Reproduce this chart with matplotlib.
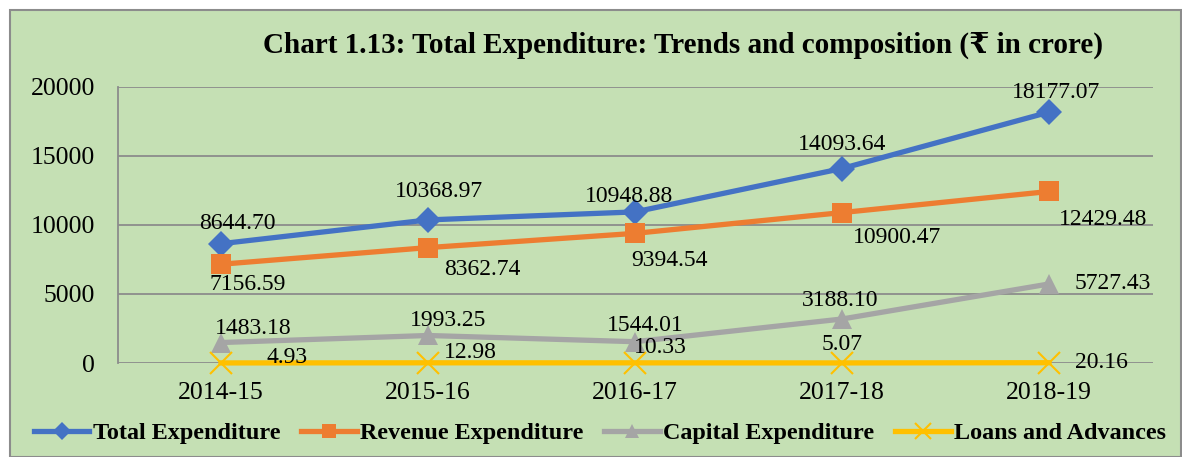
import matplotlib.pyplot as plt
from matplotlib.patches import Rectangle

# data (rupees in crore)
years = ['2014-15', '2015-16', '2016-17', '2017-18', '2018-19']
total_exp = [8644.70, 10368.97, 10948.88, 14093.64, 18177.07]
revenue_exp = [7156.59, 8362.74, 9394.54, 10900.47, 12429.48]
capital_exp = [1483.18, 1993.25, 1544.01, 3188.10, 5727.43]
loans_adv = [4.93, 12.98, 10.33, 5.07, 20.16]

serif = ['Liberation Serif', 'DejaVu Serif', 'DejaVu Sans']
plt.rcParams['font.family'] = serif

bg = '#C5E0B4'
grid_col = '#8C8C8C'

fig = plt.figure(figsize=(11.82, 4.57), dpi=100)
fig.patch.set_facecolor('white')
# green chart area with a thin grey border
fig.patches.append(Rectangle((10 / 1182, 0), 1 - 11 / 1182, 1 - 10 / 457,
                             transform=fig.transFigure, facecolor=bg,
                             edgecolor=grid_col, linewidth=1.5, zorder=-10))

ax = fig.add_axes([117.5 / 1182, 94 / 457, 1035 / 1182, 276 / 457])
ax.set_facecolor('none')
x = range(len(years))

series = [
    ('Total Expenditure', total_exp, '#4472C4', 'D', 13),
    ('Revenue Expenditure', revenue_exp, '#ED7D31', 's', 14),
    ('Capital Expenditure', capital_exp, '#A5A5A5', '^', 15),
    ('Loans and Advances', loans_adv, '#FFC000', 'x', 16),
]
# label offsets in pixels (dx, dy) for each series
offsets = [
    [(16, 20), (11, 28), (-6, 15), (0, 24), (7, 20)],
    [(27, -20), (54, -22), (35, -27), (55, -25), (54, -28)],
    [(32, 14), (20, 15), (10, 16), (-2, 19), (64, 0)],
    [(66, 5), (42, 10), (25, 15), (0, 18), (52, 0)],
]

for (name, vals, col, mk, ms), offs in zip(series, offsets):
    ax.plot(x, vals, color=col, linewidth=3.8, marker=mk, markersize=ms,
            markeredgewidth=1.5 if mk == 'x' else 0, markeredgecolor=col,
            label=name, zorder=3, clip_on=False)
    for xi, v, (dx, dy) in zip(x, vals, offs):
        ax.annotate(f'{v:.2f}', (xi, v), xytext=(dx, dy), textcoords='offset pixels',
                    ha='center', va='center', fontsize=17, color='black', zorder=4)

ax.set_xlim(-0.5, 4.5)
ax.set_ylim(0, 20000)
ax.set_yticks([0, 5000, 10000, 15000, 20000])
ax.set_xticks(list(x))
ax.set_xticklabels(years)
ax.tick_params(axis='both', length=0, labelsize=18.5)
ax.tick_params(axis='y', pad=16)
ax.tick_params(axis='x', pad=14)
ax.grid(axis='y', color=grid_col, linewidth=1.3, zorder=1)
ax.set_axisbelow(True)
for side in ['top', 'right', 'bottom']:
    ax.spines[side].set_visible(False)
ax.spines['left'].set_color(grid_col)
ax.spines['left'].set_linewidth(1.3)

fig.text(683 / 1182, 1 - 45 / 457,
         'Chart 1.13: Total Expenditure: Trends and composition (₹ in crore)',
         ha='center', va='center', fontsize=21, fontweight='bold')

fig.legend(loc='center', bbox_to_anchor=(600 / 1182, 24 / 457), ncol=4, frameon=False,
           prop={'weight': 'bold', 'size': 17.4}, handlelength=2.3,
           handletextpad=0.15, columnspacing=0.85, markerscale=0.7)

fig.savefig('out.png', dpi=100, facecolor=fig.get_facecolor())
